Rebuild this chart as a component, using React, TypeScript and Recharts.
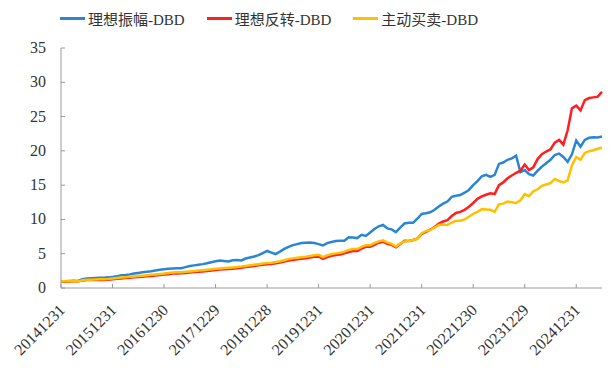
import React from 'react';
import { LineChart, Line, XAxis, YAxis, Legend } from 'recharts';

const tickLabels = [
  '20141231', '20151231', '20161230', '20171229', '20181228', '20191231',
  '20201231', '20211231', '20221230', '20231229', '20241231',
];
const tickIndex = [0, 12, 24, 36, 48, 60, 72, 84, 96, 108, 120];
const yTicks = [0, 5, 10, 15, 20, 25, 30, 35];

const seriesNames = ['理想振幅-DBD', '理想反转-DBD', '主动买卖-DBD'];

// 理想振幅
const amplitude = [
  1.0, 1.0, 1.02, 1.05, 1.03, 1.3, 1.4, 1.42, 1.45, 1.48, 1.5, 1.55,
  1.62, 1.7, 1.85, 1.9, 1.98, 2.1, 2.2, 2.3, 2.38, 2.45, 2.55, 2.65,
  2.75, 2.8, 2.86, 2.88, 2.87, 3.05, 3.2, 3.3, 3.4, 3.48, 3.6, 3.75,
  3.9, 4.0, 3.95, 3.88, 4.05, 4.1, 4.02, 4.3, 4.45, 4.6, 4.8, 5.1,
  5.4, 5.15, 4.95, 5.3, 5.7, 6.0, 6.25, 6.4, 6.55, 6.6, 6.62, 6.55,
  6.4, 6.2, 6.55, 6.7, 6.85, 6.88, 6.9, 7.4, 7.35, 7.28, 7.75, 7.6,
  8.1, 8.6, 9.0, 9.2, 8.7, 8.55, 8.15, 8.8, 9.4, 9.5, 9.5, 10.1,
  10.8, 10.9, 11.05, 11.4, 11.9, 12.3, 12.6, 13.3, 13.45, 13.55, 13.9, 14.3,
  15.0, 15.6, 16.3, 16.5, 16.2, 16.5, 18.1, 18.3, 18.7, 18.9, 19.3, 16.9,
  17.2, 16.6, 16.4, 17.1, 17.7, 18.2, 18.7, 19.4, 19.6, 19.1, 18.4, 19.5,
  21.5, 20.6, 21.6, 21.9, 22.0, 21.95, 22.1,
];

// 理想反转
const reversal = [
  0.95, 0.92, 0.95, 1.0, 0.98, 1.08, 1.15, 1.15, 1.16, 1.17, 1.17, 1.22,
  1.28, 1.33, 1.4, 1.45, 1.5, 1.55, 1.6, 1.65, 1.7, 1.76, 1.82, 1.88,
  1.95, 2.02, 2.1, 2.12, 2.15, 2.2, 2.25, 2.32, 2.38, 2.42, 2.48, 2.55,
  2.62, 2.68, 2.72, 2.78, 2.82, 2.87, 2.95, 3.05, 3.15, 3.22, 3.3, 3.38,
  3.45, 3.5, 3.6, 3.72, 3.85, 4.0, 4.1, 4.18, 4.25, 4.32, 4.45, 4.55,
  4.6, 4.25, 4.5, 4.7, 4.8, 4.9, 5.05, 5.25, 5.4, 5.4, 5.75, 6.0,
  6.0, 6.3, 6.6, 6.75, 6.45, 6.3, 5.95, 6.4, 6.9, 6.85, 7.0, 7.2,
  7.9, 8.2, 8.5, 8.9, 9.4, 9.7, 9.9, 10.5, 10.95, 11.1, 11.4, 11.85,
  12.4, 13.0, 13.35, 13.6, 13.8, 13.7, 15.0, 15.4, 16.0, 16.4, 16.8, 17.1,
  18.0, 17.2, 17.6, 18.8, 19.5, 19.9, 20.2, 21.2, 21.6, 20.9, 23.0, 26.2,
  26.6, 25.9, 27.4, 27.7, 27.8, 27.9, 28.6,
];

// 主动买卖
const activeTrade = [
  1.0, 0.98, 1.0, 1.02, 1.0, 1.12, 1.2, 1.22, 1.24, 1.26, 1.28, 1.32,
  1.38, 1.45, 1.52, 1.58, 1.63, 1.68, 1.74, 1.8, 1.86, 1.92, 1.98, 2.04,
  2.1, 2.18, 2.25, 2.28, 2.3, 2.36, 2.42, 2.48, 2.55, 2.6, 2.66, 2.72,
  2.8, 2.86, 2.9, 2.95, 3.0, 3.05, 3.12, 3.22, 3.32, 3.4, 3.48, 3.56,
  3.65, 3.68, 3.78, 3.9, 4.05, 4.22, 4.32, 4.4, 4.48, 4.55, 4.68, 4.78,
  4.85, 4.5, 4.75, 4.95, 5.05, 5.15, 5.3, 5.55, 5.7, 5.68, 6.0, 6.25,
  6.25, 6.55, 6.8, 6.95, 6.65, 6.45, 6.05, 6.5, 6.8, 6.85, 7.0, 7.15,
  8.0, 8.3, 8.45, 8.8, 9.2, 9.25, 9.2, 9.55, 9.8, 9.8, 10.0, 10.4,
  10.8, 11.1, 11.5, 11.45, 11.4, 11.1, 12.2, 12.3, 12.6, 12.5, 12.4, 12.8,
  13.7, 13.4, 14.1, 14.4, 14.9, 15.1, 15.3, 15.9, 15.6, 15.4, 15.7, 17.9,
  19.1, 18.7, 19.7, 19.95, 20.1, 20.3, 20.5,
];

const colors = ['#2a86d4', '#ff1f1f', '#ffc000'];
const font = "'Liberation Serif', 'DejaVu Serif', 'Noto Sans CJK SC', serif";
const axisColor = '#9a9a9a';

const data = amplitude.map((v, i) => ({
  idx: i,
  amplitude: v,
  reversal: reversal[i],
  activeTrade: activeTrade[i],
}));

const Y_MARGIN = 15;
const X_MARGIN = 8;

function YTick(props: any) {
  const { x, y, payload } = props;
  const ax = x + Y_MARGIN;
  return (
    <g>
      <line x1={ax} x2={ax + 4} y1={y} y2={y} stroke={axisColor} />
      <text x={x} y={y} dy={5} textAnchor="end" style={{ fontSize: 16, fontFamily: font }} fill="#333">
        {payload.value}
      </text>
    </g>
  );
}

function XTick(props: any) {
  const { x, y, payload } = props;
  const ay = y - X_MARGIN;
  const label = tickLabels[tickIndex.indexOf(payload.value)];
  const tx = x + 5;
  const ty = y + 15;
  return (
    <g>
      <line x1={x} x2={x} y1={ay} y2={ay - 4} stroke={axisColor} />
      <text
        x={tx}
        y={ty}
        textAnchor="end"
        style={{ fontSize: 16, fontFamily: font }}
        fill="#333"
        transform={`rotate(-45, ${tx}, ${ty})`}
      >
        {label}
      </text>
    </g>
  );
}

function LegendContent() {
  return (
    <div style={{ display: 'flex', paddingLeft: 60, fontFamily: font, fontSize: 15, color: '#333' }}>
      {seriesNames.map((name, i) => (
        <div key={name} style={{ display: 'flex', alignItems: 'center', marginRight: 22 }}>
          <span style={{ display: 'inline-block', width: 25, height: 3, background: colors[i], marginRight: 3 }} />
          <span>{name}</span>
        </div>
      ))}
    </div>
  );
}

export default function App() {
  return (
    <div style={{ position: 'absolute', left: 0, top: 0, background: '#fff' }}>
      <LineChart
        width={609}
        height={372}
        data={data}
        margin={{ top: 48, right: 7, bottom: 0, left: 0 }}
      >
        <Legend
          verticalAlign="middle"
          content={<LegendContent />}
          wrapperStyle={{ top: 8, left: 0, width: 609 }}
        />
        <XAxis
          dataKey="idx"
          type="number"
          domain={[0, 126]}
          ticks={tickIndex}
          interval={0}
          stroke={axisColor}
          tickLine={false}
          tickSize={0}
          tickMargin={X_MARGIN}
          tick={<XTick />}
          height={84}
        />
        <YAxis
          domain={[0, 35]}
          ticks={yTicks}
          interval={0}
          stroke={axisColor}
          tickLine={false}
          tickSize={0}
          tickMargin={Y_MARGIN}
          tick={<YTick />}
          width={61}
        />
        <Line dataKey="amplitude" name={seriesNames[0]} stroke={colors[0]} strokeWidth={2.5} dot={false} isAnimationActive={false} />
        <Line dataKey="reversal" name={seriesNames[1]} stroke={colors[1]} strokeWidth={2.5} dot={false} isAnimationActive={false} />
        <Line dataKey="activeTrade" name={seriesNames[2]} stroke={colors[2]} strokeWidth={2.5} dot={false} isAnimationActive={false} />
      </LineChart>
    </div>
  );
}
